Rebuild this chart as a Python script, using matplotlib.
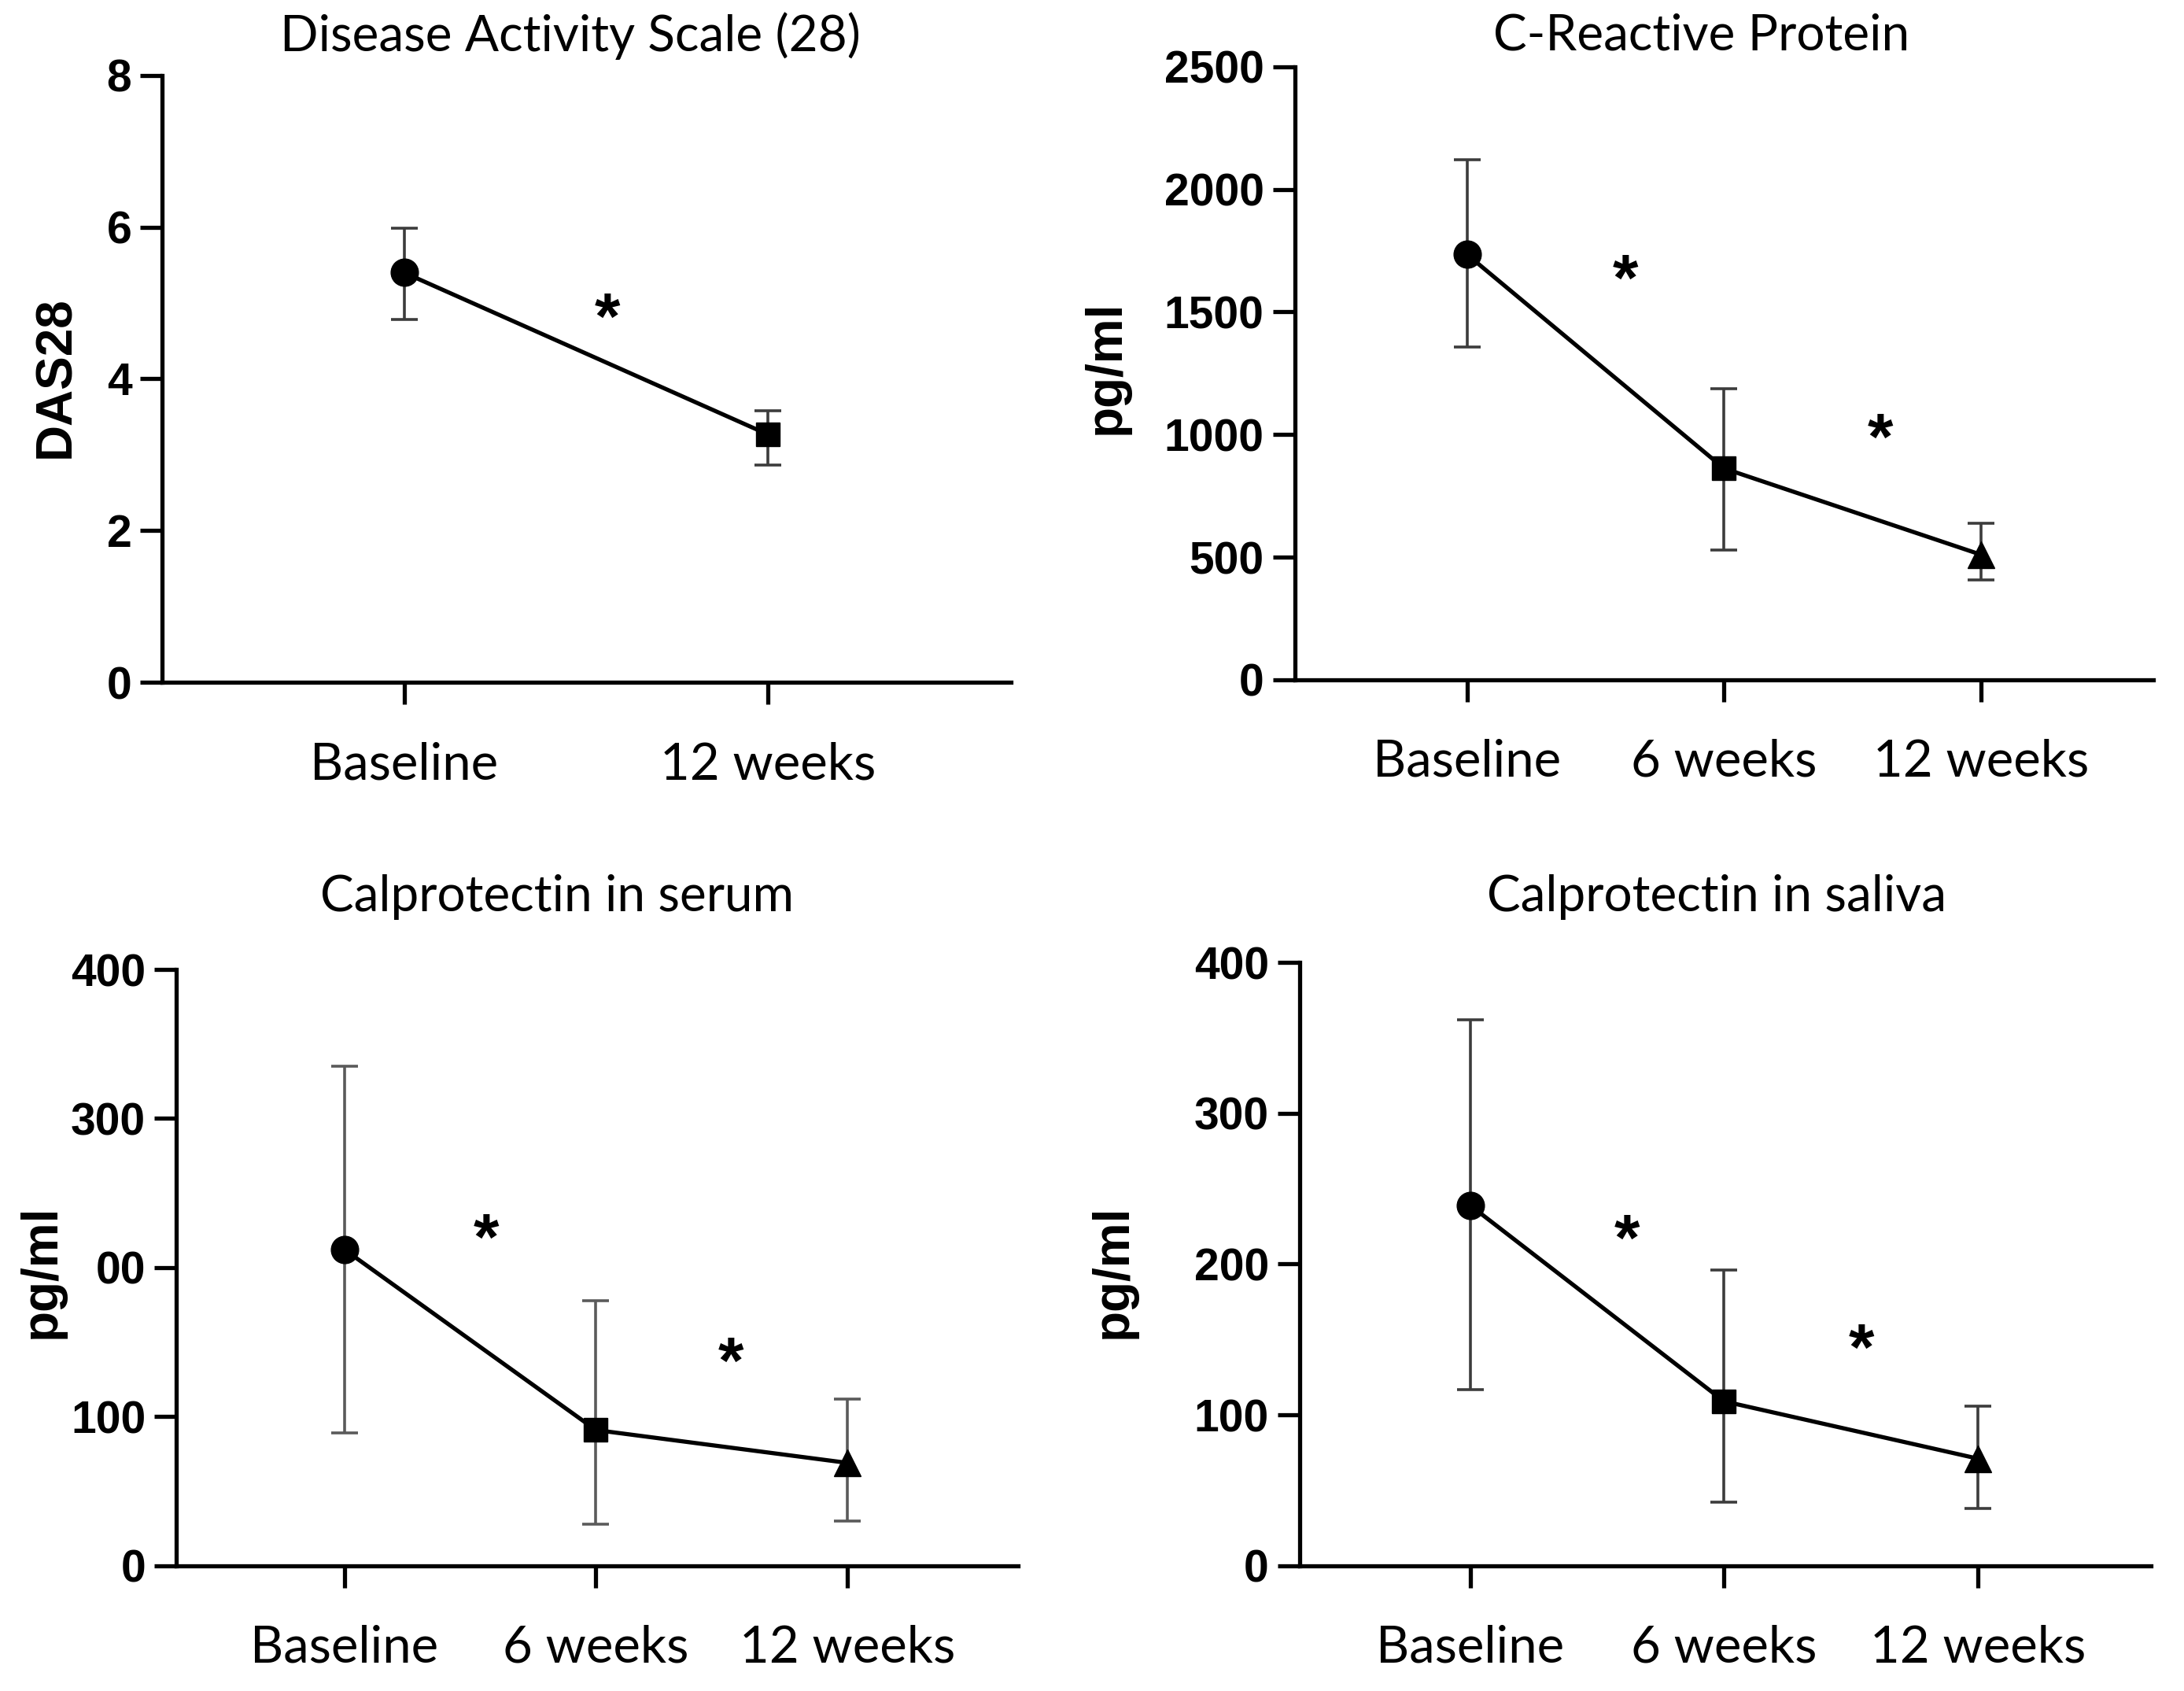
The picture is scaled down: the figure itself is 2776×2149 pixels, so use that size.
import matplotlib.pyplot as plt

# time points
cats_2 = ["Baseline", "12 weeks"]
cats_3 = ["Baseline", "6 weeks", "12 weeks"]

# DAS28
das_mean = [5.40, 3.27]
das_lo = [4.78, 2.86]
das_hi = [5.99, 3.58]

# C-reactive protein (pg/ml)
crp_mean = [1735, 862, 510]
crp_lo = [1357, 528, 407]
crp_hi = [2122, 1187, 638]

# calprotectin in serum (pg/ml)
ser_mean = [212, 91, 69]
ser_lo = [89, 28, 30]
ser_hi = [335, 178, 112]

# calprotectin in saliva (pg/ml)
sal_mean = [239, 109, 71]
sal_lo = [117, 42, 38]
sal_hi = [362, 196, 106]

markers = ["o", "s", "^"]
msizes = [25, 21, 24]
TXT = "Lato"
NUM = "Liberation Sans"
STAR = 60


def panel(ax, cats, mean, lo, hi, yticks, yticklabels, xlim, stars, ebar_col):
    x = list(range(len(cats)))
    ax.plot(x, mean, color="black", lw=3.8, zorder=3)
    for i in x:
        ax.errorbar(i, mean[i], yerr=[[mean[i] - lo[i]], [hi[i] - mean[i]]],
                    color=ebar_col, lw=2.6, capsize=12, capthick=2.6, zorder=2)
        ax.plot(i, mean[i], marker=markers[i], color="black", ms=msizes[i], zorder=4)
    for sx, sy in stars:
        # centre the glyph on the point
        ax.annotate("*", (sx, sy), xytext=(0, -0.56 * STAR), textcoords="offset points",
                    fontsize=STAR, fontweight="bold", family=NUM,
                    ha="center", va="baseline")
    ax.set_xlim(*xlim)
    ax.set_ylim(yticks[0], yticks[-1])
    ax.set_xticks(x)
    ax.set_xticklabels(cats, fontsize=47, family=TXT)
    ax.set_yticks(yticks)
    ax.set_yticklabels(yticklabels, fontsize=41, fontweight="bold", family=NUM)
    for side in ["top", "right"]:
        ax.spines[side].set_visible(False)
    for side in ["left", "bottom"]:
        ax.spines[side].set_linewidth(3.8)
    ax.tick_params(axis="both", width=3.8, length=20, direction="out")
    ax.tick_params(axis="x", pad=34)
    ax.tick_params(axis="y", pad=8)


fig = plt.figure(figsize=(27.76, 21.49), dpi=100)

ax1 = fig.add_axes([0.0743, 0.5964, 0.3887, 0.3591])
panel(ax1, cats_2, das_mean, das_lo, das_hi,
      [0, 2, 4, 6, 8], ["0", "2", "4", "6", "8"], (-0.665, 1.67), [(0.56, 5.01)],
      "#3c3c3c")

ax2 = fig.add_axes([0.5928, 0.598, 0.3932, 0.3625])
panel(ax2, cats_3, crp_mean, crp_lo, crp_hi,
      [0, 500, 1000, 1500, 2000, 2500], ["0", "500", "1000", "1500", "2000", "2500"],
      (-0.67, 2.67), [(0.616, 1697), (1.609, 1049)], "#3c3c3c")

ax3 = fig.add_axes([0.0807, 0.0741, 0.3855, 0.3526])
panel(ax3, cats_3, ser_mean, ser_lo, ser_hi,
      [0, 100, 200, 300, 400], ["0", "100", "00", "300", "400"],
      (-0.67, 2.68), [(0.562, 230), (1.537, 147)], "#5a5a5a")

ax4 = fig.add_axes([0.595, 0.0741, 0.3897, 0.3567])
panel(ax4, cats_3, sal_mean, sal_lo, sal_hi,
      [0, 100, 200, 300, 400], ["0", "100", "200", "300", "400"],
      (-0.672, 2.68), [(0.617, 227), (1.54, 154)], "#3c3c3c")

# panel titles
for tx, ty, t in [(0.261, 0.979, "Disease Activity Scale (28)"),
                  (0.779, 0.979, "C-Reactive Protein"),
                  (0.255, 0.4695, "Calprotectin in serum"),
                  (0.786, 0.4695, "Calprotectin in saliva")]:
    fig.text(tx, ty, t, fontsize=46, family=TXT, ha="center", va="center")

# y-axis titles
for tx, ty, t in [(0.0255, 0.777, "DAS28"),
                  (0.5064, 0.783, "pg/ml"),
                  (0.0191, 0.248, "pg/ml"),
                  (0.5096, 0.248, "pg/ml")]:
    fig.text(tx, ty, t, fontsize=46, fontweight="bold", family=NUM,
             rotation=90, ha="center", va="center")

fig.savefig("out.png", dpi=100)
